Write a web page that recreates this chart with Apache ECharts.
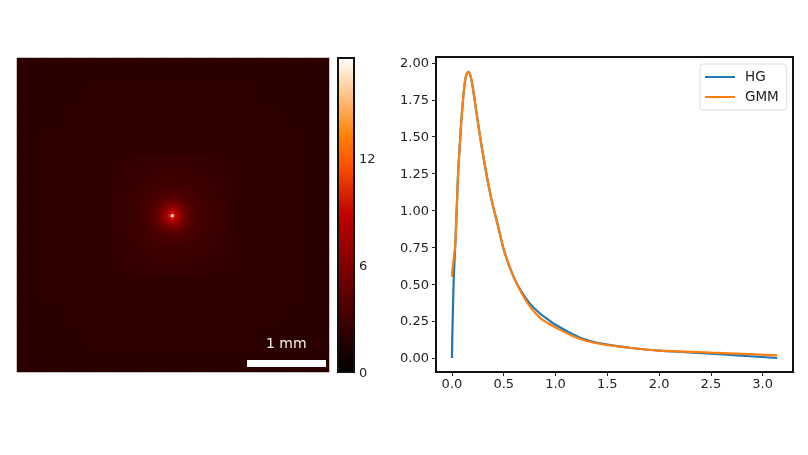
<!DOCTYPE html>
<html>
<head>
<meta charset="utf-8">
<style>html,body{margin:0;padding:0;background:#fff}#c{width:808px;height:455px}</style>
<script src="https://cdn.jsdelivr.net/npm/echarts@6/dist/echarts.min.js"></script>
</head>
<body>
<div id="c"></div>
<script>
// Line chart values
const curveX = [0,0.005,0.018,0.033,0.05,0.06,0.072,0.09,0.108,0.125,0.14,0.16,0.18,0.2,0.217,0.25,0.29,0.34,0.38,0.45,0.506,0.595,0.68,0.757,0.853,0.93,1.0,1.17,1.3,1.5,1.75,2,2.25,2.5,2.75,3.14];
const hgValues = [0,0.2,0.55,0.78,1.08,1.26,1.40,1.6,1.76,1.87,1.92,1.94,1.91,1.84,1.76,1.6,1.42,1.22,1.08,0.88,0.72,0.55,0.44,0.365,0.30,0.26,0.225,0.16,0.122,0.09,0.066,0.05,0.04,0.03,0.018,0];
const gmmValues = [0.55,0.6,0.68,0.78,1.08,1.26,1.40,1.6,1.76,1.87,1.92,1.94,1.91,1.84,1.76,1.6,1.42,1.22,1.08,0.88,0.72,0.55,0.43,0.345,0.27,0.235,0.207,0.147,0.115,0.088,0.066,0.05,0.043,0.036,0.03,0.018];
const xTicks = [0,0.5,1,1.5,2,2.5,3];
const yTicks = [0,0.25,0.5,0.75,1,1.25,1.5,1.75,2];
const barTicks = [0,6,12];
const barMax = 17.6;

// Image intensity at three zoom levels around the spot
const imageWide = [
[2.02,2.04,2.05,2.06,2.07,2.08,2.08,2.08,2.07,2.06,2.05,2.04,2.02],
[2.04,2.06,2.08,2.10,2.11,2.12,2.12,2.12,2.11,2.10,2.08,2.06,2.04],
[2.05,2.08,2.11,2.13,2.15,2.16,2.16,2.16,2.15,2.13,2.11,2.08,2.05],
[2.06,2.10,2.13,2.16,2.19,2.21,2.22,2.21,2.19,2.16,2.13,2.10,2.06],
[2.07,2.11,2.15,2.19,2.24,2.27,2.28,2.27,2.24,2.19,2.15,2.11,2.07],
[2.08,2.12,2.16,2.21,2.27,2.30,2.30,2.30,2.27,2.21,2.16,2.12,2.08],
[2.08,2.12,2.16,2.22,2.28,2.30,2.30,2.30,2.28,2.22,2.16,2.12,2.08],
[2.08,2.12,2.16,2.21,2.27,2.30,2.30,2.30,2.27,2.21,2.16,2.12,2.08],
[2.07,2.11,2.15,2.19,2.24,2.27,2.28,2.27,2.24,2.19,2.15,2.11,2.07],
[2.06,2.10,2.13,2.16,2.19,2.21,2.22,2.21,2.19,2.16,2.13,2.10,2.06],
[2.05,2.08,2.11,2.13,2.15,2.16,2.16,2.16,2.15,2.13,2.11,2.08,2.05],
[2.04,2.06,2.08,2.10,2.11,2.12,2.12,2.12,2.11,2.10,2.08,2.06,2.04],
[2.02,2.04,2.05,2.06,2.07,2.08,2.08,2.08,2.07,2.06,2.05,2.04,2.02]
];
const imageHalo = [
[2.3,2.33,2.36,2.4,2.44,2.47,2.5,2.5,2.5,2.47,2.44,2.4,2.36,2.33,2.3],
[2.33,2.37,2.42,2.47,2.53,2.57,2.6,2.6,2.6,2.57,2.53,2.47,2.42,2.37,2.33],
[2.36,2.42,2.5,2.55,2.64,2.72,2.78,2.8,2.78,2.72,2.64,2.55,2.5,2.42,2.36],
[2.4,2.47,2.55,2.68,2.8,2.88,2.97,3.0,2.97,2.88,2.8,2.68,2.55,2.47,2.4],
[2.44,2.53,2.64,2.8,2.93,3.1,3.25,3.3,3.25,3.1,2.93,2.8,2.64,2.53,2.44],
[2.47,2.57,2.72,2.88,3.1,3.4,3.65,3.8,3.65,3.4,3.1,2.88,2.72,2.57,2.47],
[2.5,2.6,2.78,2.97,3.25,3.65,4.0,4.2,4.0,3.65,3.25,2.97,2.78,2.6,2.5],
[2.5,2.6,2.8,3.0,3.3,3.8,4.2,4.5,4.2,3.8,3.3,3.0,2.8,2.6,2.5],
[2.5,2.6,2.78,2.97,3.25,3.65,4.0,4.2,4.0,3.65,3.25,2.97,2.78,2.6,2.5],
[2.47,2.57,2.72,2.88,3.1,3.4,3.65,3.8,3.65,3.4,3.1,2.88,2.72,2.57,2.47],
[2.44,2.53,2.64,2.8,2.93,3.1,3.25,3.3,3.25,3.1,2.93,2.8,2.64,2.53,2.44],
[2.4,2.47,2.55,2.68,2.8,2.88,2.97,3.0,2.97,2.88,2.8,2.68,2.55,2.47,2.4],
[2.36,2.42,2.5,2.55,2.64,2.72,2.78,2.8,2.78,2.72,2.64,2.55,2.5,2.42,2.36],
[2.33,2.37,2.42,2.47,2.53,2.57,2.6,2.6,2.6,2.57,2.53,2.47,2.42,2.37,2.33],
[2.3,2.33,2.36,2.4,2.44,2.47,2.5,2.5,2.5,2.47,2.44,2.4,2.36,2.33,2.3]
];
const imageSpot = [
[3.1,3.2,3.3,3.35,3.45,3.5,3.6,3.6,3.6,3.5,3.45,3.35,3.3,3.2,3.1],
[3.2,3.3,3.4,3.55,3.75,3.9,4.0,4.05,4.0,3.9,3.75,3.55,3.4,3.3,3.2],
[3.3,3.4,3.6,3.85,4.15,4.4,4.55,4.6,4.55,4.4,4.15,3.85,3.6,3.4,3.3],
[3.35,3.55,3.85,4.25,4.6,5.0,5.3,5.4,5.3,5.0,4.6,4.25,3.85,3.55,3.35],
[3.45,3.75,4.15,4.6,5.2,5.8,6.2,6.4,6.2,5.8,5.2,4.6,4.15,3.75,3.45],
[3.5,3.9,4.4,5.0,5.8,6.6,7.2,7.6,7.2,6.6,5.8,5.0,4.4,3.9,3.5],
[3.6,4.0,4.55,5.3,6.2,7.2,8.6,9.5,8.6,7.2,6.2,5.3,4.55,4.0,3.6],
[3.6,4.05,4.6,5.4,6.4,7.6,9.5,17,9.5,7.6,6.4,5.4,4.6,4.05,3.6],
[3.6,4.0,4.55,5.3,6.2,7.2,8.6,9.5,8.6,7.2,6.2,5.3,4.55,4.0,3.6],
[3.5,3.9,4.4,5.0,5.8,6.6,7.2,7.6,7.2,6.6,5.8,5.0,4.4,3.9,3.5],
[3.45,3.75,4.15,4.6,5.2,5.8,6.2,6.4,6.2,5.8,5.2,4.6,4.15,3.75,3.45],
[3.35,3.55,3.85,4.25,4.6,5.0,5.3,5.4,5.3,5.0,4.6,4.25,3.85,3.55,3.35],
[3.3,3.4,3.6,3.85,4.15,4.4,4.55,4.6,4.55,4.4,4.15,3.85,3.6,3.4,3.3],
[3.2,3.3,3.4,3.55,3.75,3.9,4.0,4.05,4.0,3.9,3.75,3.55,3.4,3.3,3.2],
[3.1,3.2,3.3,3.35,3.45,3.5,3.6,3.6,3.6,3.5,3.45,3.35,3.3,3.2,3.1]
];

// Colour ramp seen in the colour bar, evenly spaced from 0 to barMax
const heatRamp = ['#000000','#200000','#400000','#600000','#800000','#9f0000','#bf0000','#df2a00','#ff5500','#ff8000','#ffaa55','#ffd4aa','#ffffff'];
const FONT = 'DejaVu Sans';
const toCells = m => m.flatMap((row,y) => row.map((v,x) => [x,y,v]));
const idx = n => Array.from({length:n},(_,i)=>i);

const imgGrids = [
  {left:17, top:58, width:312, height:314, m:imageWide},
  {left:113, top:155, width:120, height:120, m:imageHalo},
  {left:150, top:193, width:45, height:45, m:imageSpot}
];
const hidden = {show:false};
const grid = imgGrids.map((g,i) => ({left:g.left, top:g.top, width:g.width, height:g.height, show:i===0, borderWidth:0, backgroundColor:'#2e0000'}));
const xAxis = imgGrids.map((g,i) => ({type:'category', gridIndex:i, data:idx(g.m[0].length), axisLine:hidden, axisTick:hidden, axisLabel:hidden, splitLine:hidden}));
const yAxis = imgGrids.map((g,i) => ({type:'category', gridIndex:i, data:idx(g.m.length), axisLine:hidden, axisTick:hidden, axisLabel:hidden, splitLine:hidden}));
const series = imgGrids.map((g,i) => ({type:'heatmap', xAxisIndex:i, yAxisIndex:i, data:toCells(g.m), progressive:0, silent:true}));

// colour bar
grid.push({left:338, top:58, width:16, height:314, show:true, borderColor:'#111', borderWidth:2, backgroundColor:'transparent', z:5});
xAxis.push({type:'category', gridIndex:3, data:['c'], axisLine:hidden, axisTick:hidden, axisLabel:hidden, splitLine:hidden});
const tickText = (fmt, pad) => ({formatter:v => '{t|' + fmt(v) + '}', rich:{t:{fontFamily:FONT, fontSize:13, color:'#222', padding:[pad,0,0,0]}}});
yAxis.push({type:'value', gridIndex:3, position:'right', min:0, max:barMax, splitLine:hidden, axisLine:hidden, axisTick:hidden,
  axisLabel:{customValues:barTicks, margin:5, ...tickText(v=>String(v),4)}});
series.push({type:'bar', xAxisIndex:3, yAxisIndex:3, data:[barMax], barWidth:'100%', silent:true,
  itemStyle:{color:new echarts.graphic.LinearGradient(0,1,0,0,heatRamp.map((color,i)=>({offset:i/(heatRamp.length-1),color})))}});

// line plot
grid.push({left:436, top:57, width:357, height:315, show:true, borderColor:'#111', borderWidth:2, backgroundColor:'transparent'});
xAxis.push({type:'value', gridIndex:4, position:'bottom', min:-0.154, max:3.293, splitLine:hidden, axisLine:{show:false, onZero:false},
  axisTick:{show:true, customValues:xTicks, length:4, lineStyle:{color:'#222'}},
  axisLabel:{customValues:xTicks, margin:6, fontFamily:FONT, fontSize:13, color:'#222', formatter:v=>v.toFixed(1)}});
yAxis.push({type:'value', gridIndex:4, position:'left', min:-0.095, max:2.04, splitLine:hidden, axisLine:{show:false, onZero:false},
  axisTick:{show:true, customValues:yTicks, length:4, lineStyle:{color:'#222'}},
  axisLabel:{customValues:yTicks, margin:7, ...tickText(v=>v.toFixed(2),2)}});
const pairs = vals => curveX.map((x,i)=>[x,vals[i]]);
series.push({name:'HG', type:'line', xAxisIndex:4, yAxisIndex:4, data:pairs(hgValues), showSymbol:false, smooth:0.3, lineStyle:{color:'#1f77b4', width:2.2}, itemStyle:{color:'#1f77b4'}, silent:true, z:3});
series.push({name:'GMM', type:'line', xAxisIndex:4, yAxisIndex:4, data:pairs(gmmValues), showSymbol:false, smooth:0.3, lineStyle:{color:'#ff7f0e', width:2.2}, itemStyle:{color:'#ff7f0e'}, silent:true, z:4});

const chart = echarts.init(document.getElementById('c'), null, {renderer:'canvas'});
chart.setOption({
  animation:false,
  backgroundColor:'#fff',
  grid, xAxis, yAxis, series,
  visualMap:{show:false, min:0, max:barMax, seriesIndex:[0,1,2], dimension:2, calculable:false, inRange:{color:heatRamp}},
  legend:{data:['HG','GMM'], orient:'vertical', left:700, top:64, padding:[6,8,6,5], itemGap:6, itemWidth:30, itemHeight:2, icon:'rect',
    borderColor:'#ddd', borderWidth:1, borderRadius:3, backgroundColor:'#fff', textStyle:{fontFamily:FONT, fontSize:13.5, color:'#222', padding:[0,0,0,5]}},
  graphic:[
    {type:'rect', left:247, top:360, shape:{width:79, height:7}, style:{fill:'#fff'}, z:20},
    {type:'text', left:266, top:337, style:{text:'1 mm', fill:'#f4f0ee', font:'14px "DejaVu Sans"'}, z:20}
  ]
});
</script>
</body>
</html>
